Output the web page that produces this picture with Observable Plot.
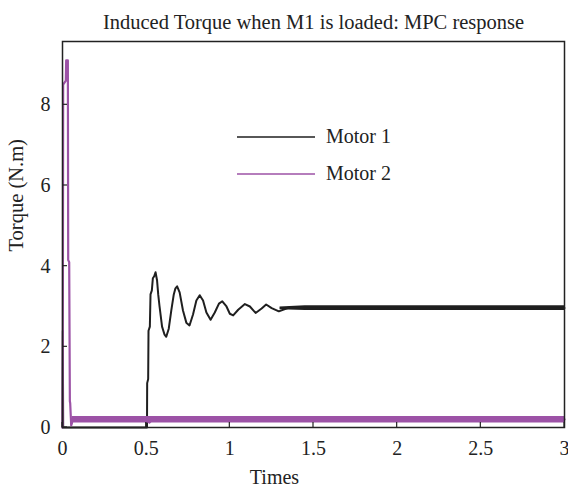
<!DOCTYPE html>
<html>
<head>
<meta charset="utf-8">
<script src="https://cdn.jsdelivr.net/npm/d3@7"></script>
<script src="https://cdn.jsdelivr.net/npm/@observablehq/plot@0.6"></script>
<style>
  html, body { margin: 0; padding: 0; background: #fff; }
</style>
</head>
<body>
<div id="chart"></div>
<script>
// ---- data ----
const title = "Induced Torque when M1 is loaded: MPC response";
const xLabel = "Times";
const yLabel = "Torque (N.m)";
const seriesNames = ["Motor 1", "Motor 2"];
const xTicks = [0, 0.5, 1, 1.5, 2, 2.5, 3];
const xTickLabels = ["0", "0.5", "1", "1.5", "2", "2.5", "3"];
const yTicks = [0, 2, 4, 6, 8];
const yTickLabels = ["0", "2", "4", "6", "8"];

// Motor 1 trace (time s, torque N.m)
const m1T = [0, 0.002, 0.004, 0.505, 0.506, 0.512, 0.514, 0.522, 0.526, 0.534, 0.54, 0.548, 0.556, 0.565, 0.572,
  0.58, 0.595, 0.61, 0.62, 0.635, 0.65, 0.665, 0.675, 0.685, 0.7, 0.72, 0.74, 0.759, 0.78, 0.8, 0.82, 0.84, 0.86,
  0.885, 0.91, 0.935, 0.955, 0.98, 1.0, 1.02, 1.05, 1.09, 1.12, 1.154, 1.19, 1.217, 1.25, 1.293, 1.35, 1.4, 1.5,
  1.7, 2.0, 2.3, 2.6, 3.0];
const m1V = [0, 2.4, 0, 0, 1.1, 1.2, 2.4, 2.5, 3.3, 3.4, 3.7, 3.75, 3.85, 3.65, 3.3,
  3.0, 2.5, 2.3, 2.25, 2.45, 2.9, 3.3, 3.45, 3.5, 3.35, 2.9, 2.6, 2.53, 2.8, 3.15, 3.28, 3.15, 2.85,
  2.67, 2.85, 3.07, 3.13, 3.0, 2.82, 2.78, 2.92, 3.06, 3.0, 2.84, 2.95, 3.05, 2.96, 2.88, 2.97, 2.97, 2.95,
  2.96, 2.95, 2.96, 2.95, 2.96];
// Motor 1 ripple envelope in steady state
const m1BandT = [1.3, 1.45, 3.0];
const m1BandLo = [2.92, 2.9, 2.9];
const m1BandHi = [2.99, 3.02, 3.02];

// Motor 2 trace
const m2T = [0, 0.002, 0.004, 0.02, 0.022, 0.032, 0.034, 0.04, 0.044, 0.046, 0.052, 0.056, 0.06, 0.5, 0.52,
  0.54, 0.6, 0.7, 0.8, 1.0, 1.5, 2.0, 2.5, 3.0];
const m2V = [0, 2.4, 8.5, 8.6, 9.1, 9.1, 4.15, 4.1, 0.65, 0.6, 0.05, 0.1, 0.2, 0.19, 0.12,
  0.22, 0.18, 0.2, 0.2, 0.2, 0.2, 0.2, 0.2, 0.2];
// Motor 2 ripple envelope
const m2BandT = [0.058, 3.0];
const m2BandLo = [0.11, 0.11];
const m2BandHi = [0.27, 0.27];

const colors = ["#1f1f1f", "#9c52a6"];

// ---- build tables ----
const m1 = m1T.map((t, i) => ({t, v: m1V[i]}));
const m2 = m2T.map((t, i) => ({t, v: m2V[i]}));
const m1Band = m1BandT.map((t, i) => ({t, lo: m1BandLo[i], hi: m1BandHi[i]}));
const m2Band = m2BandT.map((t, i) => ({t, lo: m2BandLo[i], hi: m2BandHi[i]}));

const font = "'Liberation Serif', 'Times New Roman', serif";

// inward tick marks drawn through the scales
function inwardTicks(index, scales, values, dims) {
  const g = d3.create("svg:g").attr("stroke", "#222").attr("stroke-width", 1.2);
  const yb = dims.height - dims.marginBottom;
  for (const v of xTicks) {
    const x = scales.x(v);
    g.append("line").attr("x1", x).attr("x2", x).attr("y1", yb).attr("y2", yb - 5);
  }
  const xl = dims.marginLeft;
  for (const v of yTicks) {
    const y = scales.y(v);
    g.append("line").attr("x1", xl).attr("x2", xl + 5).attr("y1", y).attr("y2", y);
  }
  return g.node();
}

// legend inside the plot
function legend(index, scales, values, dims) {
  const g = d3.create("svg:g");
  const x0 = 237, x1 = 315, tx = 326, ys = [137, 174];
  seriesNames.forEach((name, i) => {
    g.append("line").attr("x1", x0).attr("x2", x1).attr("y1", ys[i]).attr("y2", ys[i])
      .attr("stroke", colors[i]).attr("stroke-width", 1.3);
    g.append("text").attr("x", tx).attr("y", ys[i]).attr("dy", "0.32em")
      .attr("text-anchor", "start")
      .attr("font-family", font).attr("font-size", 20).attr("fill", "#222").text(name);
  });
  return g.node();
}

const chart = Plot.plot({
  width: 568,
  height: 488,
  marginLeft: 62,
  marginRight: 4,
  marginTop: 41,
  marginBottom: 61,
  style: {fontFamily: font, fontSize: "20px", background: "#fff", color: "#222"},
  x: {domain: [0, 3]},
  y: {domain: [0, 9.57]},
  marks: [
    Plot.areaY(m1Band, {x: "t", y1: "lo", y2: "hi", fill: colors[0]}),
    Plot.line(m1, {x: "t", y: "v", stroke: colors[0], strokeWidth: 2}),
    Plot.areaY(m2Band, {x: "t", y1: "lo", y2: "hi", fill: colors[1]}),
    Plot.line(m2, {x: "t", y: "v", stroke: colors[1], strokeWidth: 2.2}),
    Plot.frame({stroke: "#222", strokeWidth: 1.5}),
    inwardTicks,
    Plot.axisX({ticks: xTicks, tickFormat: (d, i) => xTickLabels[i], tickSize: 0, tickPadding: 13, label: null, fontSize: 20}),
    Plot.axisY({ticks: yTicks, tickFormat: (d, i) => yTickLabels[i], tickSize: 0, tickPadding: 12, label: null, fontSize: 20}),
    Plot.text([title], {frameAnchor: "top", dy: -27, fontSize: 20.5, fill: "#222"}),
    Plot.text([xLabel], {frameAnchor: "bottom", dx: -39, dy: 56, fontSize: 20, fill: "#222"}),
    Plot.text([yLabel], {frameAnchor: "left", dx: -46, dy: 17, rotate: -90, fontSize: 20.5, fill: "#222"}),
    legend
  ]
});
document.getElementById("chart").append(chart);
</script>
</body>
</html>
